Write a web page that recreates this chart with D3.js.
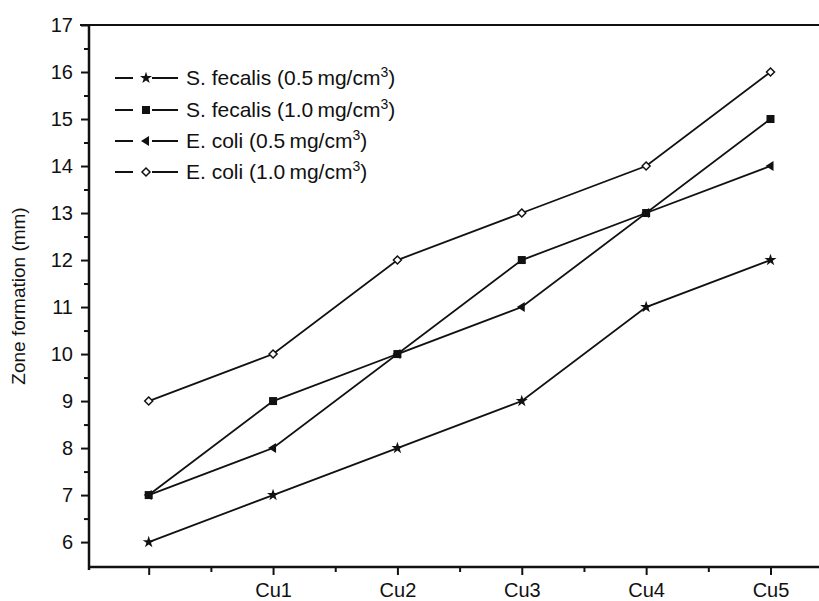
<!DOCTYPE html>
<html>
<head>
<meta charset="utf-8">
<script src="https://cdn.jsdelivr.net/npm/d3@7"></script>
<style>
  body { margin: 0; background: #fff; }
  svg { display: block; font-family: "Liberation Sans", Arial, sans-serif; }
</style>
</head>
<body>
<svg id="chart" width="819" height="601"></svg>
<script>
const categories = ["", "Cu1", "Cu2", "Cu3", "Cu4", "Cu5"];
const sfecalis05 = [6, 7, 8, 9, 11, 12];
const sfecalis10 = [7, 9, 10, 12, 13, 15];
const ecoli05 = [7, 8, 10, 11, 13, 14];
const ecoli10 = [9, 10, 12, 13, 14, 16];
const yTicks = [6, 7, 8, 9, 10, 11, 12, 13, 14, 15, 16, 17];

const series = [
  { name: "S. fecalis (0.5\u2009mg/cm", values: sfecalis05, marker: "star" },
  { name: "S. fecalis (1.0\u2009mg/cm", values: sfecalis10, marker: "square" },
  { name: "E. coli (0.5\u2009mg/cm", values: ecoli05, marker: "tri" },
  { name: "E. coli (1.0\u2009mg/cm", values: ecoli10, marker: "diamond" }
];

const svg = d3.select("#chart");
const plotLeft = 89, plotRight = 819, plotTop = 25, plotBottom = 567;

const x = d3.scaleLinear().domain([-0.48, 5.39]).range([plotLeft, plotRight]);
const y = d3.scaleLinear().domain([5.47, 17]).range([plotBottom, plotTop]);

// frame: top line + axes
svg.append("line")
  .attr("x1", 80).attr("x2", plotRight).attr("y1", plotTop).attr("y2", plotTop)
  .attr("stroke", "#111").attr("stroke-width", 2);

const yAxis = svg.append("g")
  .attr("transform", `translate(${plotLeft},0)`)
  .call(d3.axisLeft(y).tickValues(yTicks).tickSize(8).tickPadding(8).tickFormat(d3.format("d")));
const yMinor = svg.append("g")
  .attr("transform", `translate(${plotLeft},0)`)
  .call(d3.axisLeft(y).tickValues(yTicks.slice(0, -1).map(d => d + 0.5)).tickSize(5).tickFormat(""));

const xAxis = svg.append("g")
  .attr("transform", `translate(0,${plotBottom})`)
  .call(d3.axisBottom(x).tickValues(d3.range(categories.length)).tickSize(8).tickPadding(8)
    .tickFormat(i => categories[i]));
const xMinor = svg.append("g")
  .attr("transform", `translate(0,${plotBottom})`)
  .call(d3.axisBottom(x).tickValues(d3.range(categories.length - 1).map(d => d + 0.5)).tickSize(5).tickFormat(""));

[yAxis, yMinor, xAxis, xMinor].forEach(g => {
  g.select(".domain").remove();
  g.attr("font-size", null).attr("font-family", null);
  g.selectAll("line").attr("stroke", "#111").attr("stroke-width", 2);
  g.selectAll("text").attr("fill", "#111").style("font-size", "20px");
});

svg.append("line")
  .attr("x1", plotLeft).attr("x2", plotLeft).attr("y1", plotTop - 1).attr("y2", plotBottom + 3)
  .attr("stroke", "#111").attr("stroke-width", 2.5);
svg.append("line")
  .attr("x1", plotLeft - 1).attr("x2", plotRight).attr("y1", plotBottom).attr("y2", plotBottom)
  .attr("stroke", "#111").attr("stroke-width", 2.5);

svg.append("text")
  .attr("transform", `translate(25,${(plotTop + plotBottom) / 2}) rotate(-90)`)
  .attr("text-anchor", "middle")
  .attr("fill", "#111")
  .style("font-size", "19px")
  .text("Zone formation (mm)");

function drawMarker(g, type, cx, cy) {
  if (type === "square") {
    g.append("rect").attr("x", cx - 4).attr("y", cy - 4).attr("width", 8).attr("height", 8).attr("fill", "#111");
  } else if (type === "tri") {
    g.append("path").attr("d", `M${cx - 5},${cy} L${cx + 3},${cy - 5} L${cx + 3},${cy + 5} Z`).attr("fill", "#111");
  } else if (type === "diamond") {
    g.append("path").attr("d", `M${cx},${cy - 4} L${cx + 4},${cy} L${cx},${cy + 4} L${cx - 4},${cy} Z`)
      .attr("fill", "#fff").attr("stroke", "#111").attr("stroke-width", 1.5);
  } else {
    g.append("path").attr("d", d3.symbol(d3.symbolStar, 45)()).attr("transform", `translate(${cx},${cy})`).attr("fill", "#111");
  }
}

const line = d3.line().x((d, i) => x(i)).y(d => y(d));

series.forEach(s => {
  svg.append("path")
    .attr("d", line(s.values))
    .attr("fill", "none")
    .attr("stroke", "#111")
    .attr("stroke-width", 1.8);
  const mg = svg.append("g");
  s.values.forEach((v, i) => drawMarker(mg, s.marker, x(i), y(v)));
});

// legend
const legendY = [78, 110, 141, 172];
series.forEach((s, i) => {
  const ly = legendY[i];
  const lg = svg.append("g");
  lg.append("line").attr("x1", 115).attr("x2", 133).attr("y1", ly).attr("y2", ly).attr("stroke", "#111").attr("stroke-width", 2);
  lg.append("line").attr("x1", 152).attr("x2", 178).attr("y1", ly).attr("y2", ly).attr("stroke", "#111").attr("stroke-width", 2);
  drawMarker(lg, s.marker, 146, ly);
  const t = lg.append("text").attr("x", 186).attr("y", ly + 7).attr("fill", "#111").style("font-size", "21px");
  t.append("tspan").text(s.name);
  t.append("tspan").attr("dy", -8).style("font-size", "14px").text("3");
  t.append("tspan").attr("dy", 8).text(")");
});
</script>
</body>
</html>
